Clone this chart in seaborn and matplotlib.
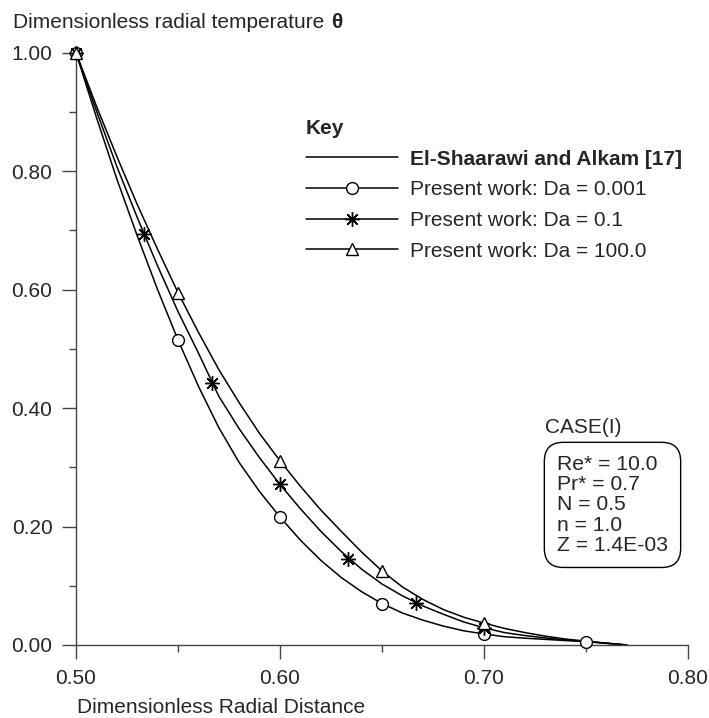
import matplotlib
matplotlib.use('Agg')
import matplotlib.pyplot as plt
from matplotlib.lines import Line2D
from matplotlib.ticker import MultipleLocator, FormatStrFormatter
import seaborn as sns

# curve values
r_curve = [0.50, 0.51, 0.52, 0.53, 0.54, 0.55, 0.56, 0.57, 0.58, 0.59,
           0.60, 0.61, 0.62, 0.63, 0.64, 0.65, 0.66, 0.67, 0.68, 0.69,
           0.70, 0.71, 0.72, 0.73, 0.74, 0.75, 0.76, 0.77]
theta_da_0001 = [1.000, 0.891, 0.787, 0.691, 0.600, 0.515, 0.437, 0.367, 0.308, 0.259,
                 0.216, 0.177, 0.143, 0.114, 0.090, 0.070, 0.054, 0.042, 0.032, 0.024,
                 0.0187, 0.014, 0.0115, 0.0095, 0.0075, 0.0056, 0.003, 0.0]
theta_da_01 = [1.000, 0.902, 0.808, 0.722, 0.640, 0.563, 0.493, 0.420, 0.365, 0.316,
               0.271, 0.230, 0.192, 0.158, 0.128, 0.103, 0.083, 0.066, 0.052, 0.039,
               0.029, 0.021, 0.016, 0.012, 0.0085, 0.006, 0.003, 0.0]
theta_da_100 = [1.000, 0.910, 0.825, 0.744, 0.668, 0.595, 0.528, 0.465, 0.409, 0.357,
                0.311, 0.268, 0.228, 0.192, 0.157, 0.125, 0.098, 0.077, 0.060, 0.047,
                0.037, 0.028, 0.021, 0.015, 0.010, 0.0065, 0.003, 0.0]

# present work markers
r_circle = [0.50, 0.55, 0.60, 0.65, 0.70, 0.75]
theta_circle = [1.0, 0.515, 0.216, 0.070, 0.0186, 0.0056]
r_star = [0.50, 0.5333, 0.5667, 0.60, 0.6333, 0.6667, 0.70]
theta_star = [1.0, 0.694, 0.443, 0.271, 0.145, 0.071, 0.028]
r_tri = [0.50, 0.55, 0.60, 0.65, 0.70]
theta_tri = [1.0, 0.595, 0.311, 0.125, 0.037]

legend_labels = ['El-Shaarawi and Alkam [17]', 'Present work: Da = 0.001',
                 'Present work: Da = 0.1', 'Present work: Da = 100.0']
case_lines = ['Re* = 10.0', 'Pr* = 0.7', 'N = 0.5', 'n = 1.0', 'Z = 1.4E-03']

sns.set_style('ticks')
plt.rcParams['font.family'] = ['Liberation Sans', 'DejaVu Sans']

W, H = 709, 718
fs = 15
fig = plt.figure(figsize=(W / 100, H / 100), dpi=100)
ax = fig.add_axes([76 / W, 73 / H, (688 - 76) / W, (645 - 52.7) / H])

axis_col = '#444444'
lw = 1.1

for th in [theta_da_0001, theta_da_01, theta_da_100]:
    sns.lineplot(x=r_curve, y=th, ax=ax, color='black', lw=lw)

mk_circle = dict(marker='o', ms=8.5, mfc='white', mec='black', mew=1.0)
mk_star = dict(marker=(8, 2, 0), ms=10.5, mec='black', mew=1.0)
mk_tri = dict(marker='^', ms=9, mfc='white', mec='black', mew=1.0)

for r, th, mk in [(r_circle, theta_circle, mk_circle),
                  (r_star, theta_star, mk_star),
                  (r_tri, theta_tri, mk_tri)]:
    sns.lineplot(x=r, y=th, ax=ax, color='black', linestyle='none',
                 clip_on=False, zorder=5, **mk)

ax.set_xlim(0.5, 0.8)
ax.set_ylim(0, 1)
ax.xaxis.set_major_locator(MultipleLocator(0.1))
ax.xaxis.set_minor_locator(MultipleLocator(0.05))
ax.yaxis.set_major_locator(MultipleLocator(0.2))
ax.yaxis.set_minor_locator(MultipleLocator(0.1))
ax.xaxis.set_major_formatter(FormatStrFormatter('%.2f'))
ax.yaxis.set_major_formatter(FormatStrFormatter('%.2f'))
ax.tick_params(which='major', length=10, width=1, color=axis_col, labelsize=fs)
ax.tick_params(axis='x', which='major', pad=7)
ax.tick_params(axis='y', which='major', pad=7)
ax.tick_params(which='minor', length=5, width=1, color=axis_col)
for side in ['top', 'right']:
    ax.spines[side].set_visible(False)
for side in ['left', 'bottom']:
    ax.spines[side].set_color(axis_col)
    ax.spines[side].set_linewidth(1)
ax.set_xlabel('')
ax.set_ylabel('')

# axis titles
ylab = fig.text(12.7 / W, 1 - 28 / H, 'Dimensionless radial temperature ',
                fontsize=fs, va='baseline', ha='left')
ax.annotate('θ', xy=(1, 0), xycoords=ylab, xytext=(1, 0), textcoords='offset points',
            fontsize=fs, fontweight='bold', va='bottom', ha='left')
fig.text(77 / W, 1 - 713 / H, 'Dimensionless Radial Distance',
         fontsize=fs, va='baseline', ha='left')

# key
handles = [Line2D([], [], color='black', lw=lw),
           Line2D([], [], color='black', lw=lw, **mk_circle),
           Line2D([], [], color='black', lw=lw, **mk_star),
           Line2D([], [], color='black', lw=lw, **mk_tri)]
leg = ax.legend(handles, legend_labels, title='Key', loc='upper left',
                bbox_to_anchor=(306 / W, 1 - 119 / H), bbox_transform=fig.transFigure,
                frameon=False, borderpad=0, borderaxespad=0, alignment='left',
                handlelength=4.4, handletextpad=0.58, labelspacing=0.56, fontsize=fs,
                title_fontproperties={'weight': 'bold', 'size': fs})
leg.get_texts()[0].set_fontweight('bold')

# case box
fig.text(545 / W, 1 - 433 / H, 'CASE(I)', fontsize=fs, va='baseline', ha='left')
fig.text(557 / W, 1 - 455 / H, '\n'.join(case_lines), fontsize=15.2, va='top',
         ha='left', linespacing=1.08,
         bbox=dict(boxstyle='round,pad=0.6,rounding_size=0.9', fc='white', ec='black', lw=1))

fig.savefig('out.png', dpi=100)
